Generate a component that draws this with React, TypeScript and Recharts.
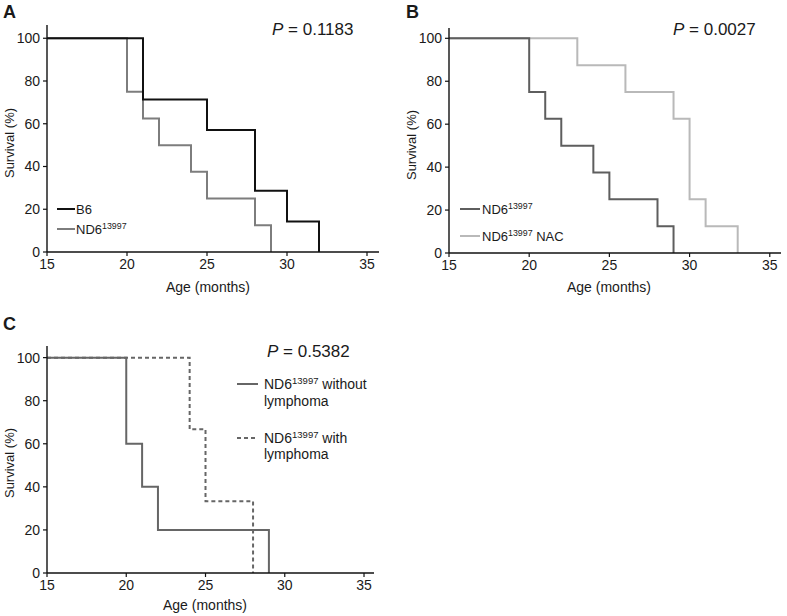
import { LineChart, Line, XAxis, YAxis } from "recharts";

const ageTicks = [15, 20, 25, 30, 35];
const survivalTicks = [0, 20, 40, 60, 80, 100];

// Kaplan-Meier steps: age where survival drops, survival (%) after the drop
const b6Age = [15, 21, 25, 28, 30, 32];
const b6Surv = [100, 71.4, 57.1, 28.6, 14.3, 0];
const nd6Age = [15, 20, 21, 22, 24, 25, 28, 29];
const nd6Surv = [100, 75, 62.5, 50, 37.5, 25, 12.5, 0];
const nacAge = [15, 23, 26, 29, 30, 31, 33];
const nacSurv = [100, 87.5, 75, 62.5, 25, 12.5, 0];
const noLymphAge = [15, 20, 21, 22, 29];
const noLymphSurv = [100, 60, 40, 20, 0];
const lymphAge = [15, 24, 25, 28];
const lymphSurv = [100, 66.7, 33.3, 0];

const pValues = ["0.1183", "0.0027", "0.5382"];

const FONT = '"Liberation Sans", Arial, sans-serif';

const toPoints = (ages: number[], surv: number[]) =>
  ages.map((t, i) => ({ t, s: surv[i] }));

type Series = { name: string; data: { t: number; s: number }[]; color: string; dash?: string };

function Panel({
  left,
  top,
  width,
  height,
  marginTop,
  marginRight,
  xMax,
  yMax,
  series,
}: {
  left: number;
  top: number;
  width: number;
  height: number;
  marginTop: number;
  marginRight: number;
  xMax: number;
  yMax: number;
  series: Series[];
}) {
  const tick = { fontSize: 14, fill: "#1a1a1a", fontFamily: FONT };
  return (
    <div style={{ position: "absolute", left, top }}>
      <LineChart width={width} height={height} margin={{ top: marginTop, right: marginRight, left: 0, bottom: 2 }}>
        <XAxis
          type="number"
          dataKey="t"
          domain={[15, xMax]}
          ticks={ageTicks}
          allowDataOverflow
          tick={tick}
          tickSize={4}
          tickMargin={3}
          height={22}
          axisLine={{ stroke: "#111", strokeWidth: 1.4 }}
          tickLine={{ stroke: "#111", strokeWidth: 1.2 }}
        />
        <YAxis
          type="number"
          domain={[0, yMax]}
          ticks={survivalTicks}
          allowDataOverflow
          width={47}
          tick={tick}
          tickSize={4}
          tickMargin={3}
          axisLine={{ stroke: "#111", strokeWidth: 1.4 }}
          tickLine={{ stroke: "#111", strokeWidth: 1.2 }}
        />
        {series.map((s) => (
          <Line
            key={s.name}
            data={s.data}
            dataKey="s"
            type="stepAfter"
            stroke={s.color}
            strokeWidth={2}
            strokeDasharray={s.dash}
            dot={false}
            activeDot={false}
            isAnimationActive={false}
          />
        ))}
      </LineChart>
    </div>
  );
}

function Txt({ x, y, size, children, bold, anchor = "left" }: any) {
  return (
    <div
      style={{
        position: "absolute",
        left: x,
        top: y,
        transform: anchor === "center" ? "translate(-50%, -50%)" : "translateY(-50%)",
        fontSize: size,
        fontWeight: bold ? "bold" : "normal",
        fontFamily: FONT,
        color: "#1a1a1a",
        whiteSpace: "nowrap",
        lineHeight: 1,
      }}
    >
      {children}
    </div>
  );
}

function YTitle({ x, y }: { x: number; y: number }) {
  return (
    <div
      style={{
        position: "absolute",
        left: x,
        top: y,
        transform: "translate(-50%, -50%) rotate(-90deg)",
        fontSize: 13,
        fontFamily: FONT,
        color: "#1a1a1a",
        whiteSpace: "nowrap",
        lineHeight: 1,
      }}
    >
      Survival (%)
    </div>
  );
}

function Swatch({ x, y, w, color, dash }: { x: number; y: number; w: number; color: string; dash?: string }) {
  return (
    <svg style={{ position: "absolute", left: x, top: y - 2 }} width={w} height={4}>
      <line x1={0} y1={2} x2={w} y2={2} stroke={color} strokeWidth={2} strokeDasharray={dash} />
    </svg>
  );
}

const Nd6 = ({ size }: { size: number }) => (
  <>
    ND6
    <span style={{ fontSize: size * 0.68, position: "relative", top: -size * 0.38 }}>13997</span>
  </>
);

export default function App() {
  const aSeries: Series[] = [
    { name: "nd6", data: toPoints(nd6Age, nd6Surv), color: "#7d7d7d" },
    { name: "b6", data: toPoints(b6Age, b6Surv), color: "#111111" },
  ];
  const bSeries: Series[] = [
    { name: "nac", data: toPoints(nacAge, nacSurv), color: "#b9b9b9" },
    { name: "nd6", data: toPoints(nd6Age, nd6Surv), color: "#5e5e5e" },
  ];
  const cSeries: Series[] = [
    { name: "lymph", data: toPoints(lymphAge, lymphSurv), color: "#666666", dash: "4 3" },
    { name: "nolymph", data: toPoints(noLymphAge, noLymphSurv), color: "#666666" },
  ];

  return (
    <div style={{ position: "absolute", left: 0, top: 0, width: 787, height: 616, background: "#fff", overflow: "hidden" }}>
      {/* Panel A */}
      <Panel left={0} top={0} width={390} height={276} marginTop={25} marginRight={11} xMax={35.75} yMax={106.2} series={aSeries} />
      <Txt x={3} y={12} size={18} bold>A</Txt>
      <Txt x={272} y={29} size={17}>
        <i>P</i> = {pValues[0]}
      </Txt>
      <Swatch x={57} y={209} w={18} color="#111111" />
      <Txt x={76} y={209} size={13}>B6</Txt>
      <Swatch x={57} y={229} w={18} color="#7d7d7d" />
      <Txt x={76} y={229} size={13}><Nd6 size={13} /></Txt>
      <Txt x={208} y={287} size={14} anchor="center">Age (months)</Txt>
      <YTitle x={9} y={143} />

      {/* Panel B */}
      <Panel left={402} top={0} width={383} height={277} marginTop={28} marginRight={4} xMax={35.7} yMax={104.8} series={bSeries} />
      <Txt x={406} y={12} size={18} bold>B</Txt>
      <Txt x={673} y={29} size={17}>
        <i>P</i> = {pValues[1]}
      </Txt>
      <Swatch x={460} y={209} w={20} color="#5e5e5e" />
      <Txt x={482} y={209} size={13}><Nd6 size={13} /></Txt>
      <Swatch x={460} y={236} w={20} color="#b9b9b9" />
      <Txt x={482} y={236} size={13}><Nd6 size={13} /> NAC</Txt>
      <Txt x={609} y={287} size={14} anchor="center">Age (months)</Txt>
      <YTitle x={411} y={145} />

      {/* Panel C */}
      <Panel left={0} top={310} width={378} height={287} marginTop={36} marginRight={4} xMax={35.63} yMax={105.4} series={cSeries} />
      <Txt x={3} y={324} size={18} bold>C</Txt>
      <Txt x={267} y={351} size={17}>
        <i>P</i> = {pValues[2]}
      </Txt>
      <Swatch x={237} y={384} w={21} color="#666666" />
      <Txt x={264} y={384} size={14}><Nd6 size={14} /> without</Txt>
      <Txt x={264} y={401} size={14}>lymphoma</Txt>
      <Swatch x={237} y={438} w={21} color="#666666" dash="4 3" />
      <Txt x={264} y={438} size={14}><Nd6 size={14} /> with</Txt>
      <Txt x={264} y={454} size={14}>lymphoma</Txt>
      <Txt x={205} y={605} size={14} anchor="center">Age (months)</Txt>
      <YTitle x={9} y={463} />
    </div>
  );
}
